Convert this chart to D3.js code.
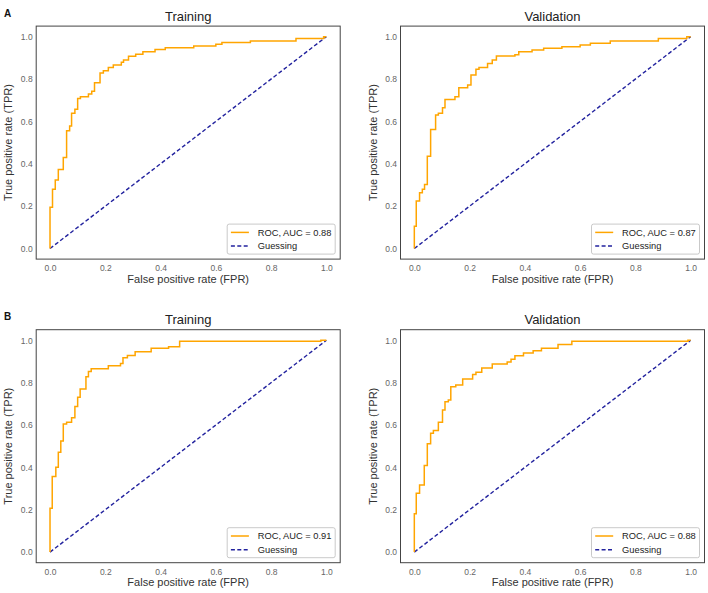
<!DOCTYPE html>
<html>
<head>
<meta charset="utf-8">
<script src="https://cdn.jsdelivr.net/npm/d3@7"></script>
<style>
body { margin: 0; background: #fff; }
text { font-family: "Liberation Sans", Arial, sans-serif; }
</style>
</head>
<body>
<div id="the_chart"></div>
<script>
// values (step corners of each ROC curve)
var panelLetters = ["A", "B"];
var panelTitles = ["Training", "Validation"];
var aucLabels = ["ROC, AUC = 0.88", "ROC, AUC = 0.87", "ROC, AUC = 0.91", "ROC, AUC = 0.88"];
var tickValues = [0, 0.2, 0.4, 0.6, 0.8, 1.0];
var guessing = [[0, 0], [1, 1]];

var fprATrain = [0, 0, 0.009, 0.019, 0.03, 0.048, 0.06, 0.071, 0.078, 0.09, 0.1, 0.11, 0.139, 0.151, 0.161, 0.181, 0.193, 0.211, 0.229, 0.258, 0.266, 0.284, 0.31, 0.336, 0.38, 0.417, 0.52, 0.6, 0.622, 0.725, 0.89, 0.99, 1];
var tprATrain = [0, 0.195, 0.28, 0.323, 0.373, 0.43, 0.556, 0.578, 0.638, 0.657, 0.708, 0.716, 0.729, 0.742, 0.783, 0.828, 0.839, 0.855, 0.866, 0.879, 0.89, 0.908, 0.917, 0.929, 0.94, 0.948, 0.956, 0.964, 0.972, 0.98, 0.992, 1, 1];

var fprAVal = [0, 0, 0.007, 0.019, 0.029, 0.037, 0.047, 0.059, 0.077, 0.087, 0.102, 0.111, 0.147, 0.161, 0.193, 0.205, 0.223, 0.234, 0.265, 0.282, 0.297, 0.364, 0.378, 0.426, 0.468, 0.534, 0.6, 0.637, 0.709, 0.883, 0.986, 1];
var tprAVal = [0, 0.105, 0.224, 0.263, 0.28, 0.302, 0.436, 0.562, 0.63, 0.638, 0.665, 0.704, 0.716, 0.759, 0.772, 0.819, 0.846, 0.854, 0.874, 0.89, 0.909, 0.915, 0.929, 0.937, 0.945, 0.953, 0.961, 0.969, 0.98, 0.992, 1, 1];

var fprBTrain = [0, 0, 0.008, 0.021, 0.03, 0.039, 0.048, 0.06, 0.078, 0.09, 0.1, 0.109, 0.13, 0.139, 0.149, 0.211, 0.255, 0.264, 0.28, 0.308, 0.366, 0.429, 0.469, 0.98, 1];
var tprBTrain = [0, 0.207, 0.357, 0.401, 0.472, 0.524, 0.605, 0.613, 0.634, 0.687, 0.731, 0.77, 0.828, 0.853, 0.866, 0.88, 0.89, 0.918, 0.928, 0.946, 0.962, 0.97, 0.995, 1, 1];

var fprBVal = [0, 0, 0.007, 0.019, 0.036, 0.047, 0.059, 0.069, 0.087, 0.102, 0.111, 0.123, 0.132, 0.15, 0.175, 0.211, 0.223, 0.244, 0.282, 0.336, 0.35, 0.364, 0.395, 0.43, 0.46, 0.52, 0.57, 0.99, 1];
var tprBVal = [0, 0.181, 0.278, 0.317, 0.409, 0.511, 0.561, 0.574, 0.613, 0.671, 0.71, 0.718, 0.781, 0.789, 0.817, 0.838, 0.849, 0.869, 0.888, 0.898, 0.91, 0.927, 0.94, 0.951, 0.962, 0.98, 0.995, 1, 1];

var curves = [
    [fprATrain, tprATrain], [fprAVal, tprAVal],
    [fprBTrain, tprBTrain], [fprBVal, tprBVal]
];

var w = 708;
var h = 593;
var lefts = [36.2, 400.5];
var tops = [26.1, 329.7];
var pw = 304;
var ph = 233;

var svg = d3.select("#the_chart")
            .append("svg")
            .attr("width", w)
            .attr("height", h);

// panel letters
panelLetters.forEach(function(l, r) {
    svg.append("text")
       .attr("x", 4)
       .attr("y", tops[r] - 9.5)
       .attr("font-size", "10px")
       .attr("font-weight", "bold")
       .attr("fill", "#111")
       .text(l);
});

function gen_panel(r, c) {
    var idx = r * 2 + c;
    var x0 = lefts[c], y0 = tops[r];
    var data = curves[idx][0].map(function(f, i) { return [f, curves[idx][1][i]]; });

    var xscale = d3.scaleLinear().domain([-0.05, 1.05]).range([x0, x0 + pw]);
    var yscale = d3.scaleLinear().domain([-0.05, 1.05]).range([y0 + ph, y0]);

    var g = svg.append("g");

    var xaxis = d3.axisBottom(xscale)
                  .tickValues(tickValues)
                  .tickSize(0)
                  .tickPadding(6)
                  .tickFormat(d3.format(".1f"));
    var yaxis = d3.axisLeft(yscale)
                  .tickValues(tickValues)
                  .tickSize(0)
                  .tickPadding(3.5)
                  .tickFormat(d3.format(".1f"));

    var gX = g.append("g")
              .attr("transform", "translate(0," + (y0 + ph) + ")")
              .call(xaxis);
    var gY = g.append("g")
              .attr("transform", "translate(" + x0 + ",0)")
              .call(yaxis);
    [gX, gY].forEach(function(a) {
        a.select(".domain").remove();
        a.selectAll("text")
         .attr("font-family", "'Liberation Sans', Arial, sans-serif")
         .attr("font-size", "8.5px")
         .attr("fill", "#666");
    });

    var line = d3.line()
                 .x(function(d) { return xscale(d[0]); })
                 .y(function(d) { return yscale(d[1]); });

    g.append("path")
     .datum(guessing)
     .attr("d", line)
     .attr("fill", "none")
     .attr("stroke", "#22229e")
     .attr("stroke-width", 1.4)
     .attr("stroke-dasharray", "4,2.4");

    g.append("path")
     .datum(data)
     .attr("d", line.curve(d3.curveStepAfter))
     .attr("fill", "none")
     .attr("stroke", "#ffa500")
     .attr("stroke-width", 1.5);

    // frame
    g.append("rect")
     .attr("x", x0)
     .attr("y", y0)
     .attr("width", pw)
     .attr("height", ph)
     .attr("fill", "none")
     .attr("stroke", "#444")
     .attr("stroke-width", 1);

    // titles and axis labels
    g.append("text")
     .attr("x", x0 + pw / 2)
     .attr("y", y0 - 5.5)
     .attr("text-anchor", "middle")
     .attr("font-size", "13px")
     .attr("fill", "#222")
     .text(panelTitles[c]);

    g.append("text")
     .attr("x", x0 + pw / 2)
     .attr("y", y0 + ph + 23.5)
     .attr("text-anchor", "middle")
     .attr("font-size", "11px")
     .attr("fill", "#333")
     .text("False positive rate (FPR)");

    g.append("text")
     .attr("transform", "translate(" + (x0 - 24) + "," + (y0 + ph / 2) + ") rotate(-90)")
     .attr("text-anchor", "middle")
     .attr("font-size", "11px")
     .attr("fill", "#333")
     .text("True positive rate (TPR)");

    // legend
    var lw = 108, lh = 30;
    var lx = x0 + pw - 5 - lw, ly = y0 + ph - 5 - lh;
    var leg = g.append("g");
    leg.append("rect")
       .attr("x", lx).attr("y", ly)
       .attr("width", lw).attr("height", lh)
       .attr("rx", 2)
       .attr("fill", "#fff")
       .attr("stroke", "#bbb")
       .attr("stroke-width", 0.8);
    var items = [
        {label: aucLabels[idx], color: "#ffa500", dash: null},
        {label: "Guessing", color: "#22229e", dash: "4,2.4"}
    ];
    items.forEach(function(it, i) {
        var cy = ly + 8.3 + i * 13.7;
        leg.append("line")
           .attr("x1", lx + 3.7).attr("x2", lx + 21.7)
           .attr("y1", cy).attr("y2", cy)
           .attr("stroke", it.color)
           .attr("stroke-width", 1.5)
           .attr("stroke-dasharray", it.dash);
        leg.append("text")
           .attr("x", lx + 30.6)
           .attr("y", cy + 3.3)
           .attr("font-size", "9.3px")
           .attr("fill", "#222")
           .text(it.label);
    });
}

for (var r = 0; r < 2; r++) {
    for (var c = 0; c < 2; c++) {
        gen_panel(r, c);
    }
}
</script>
</body>
</html>
